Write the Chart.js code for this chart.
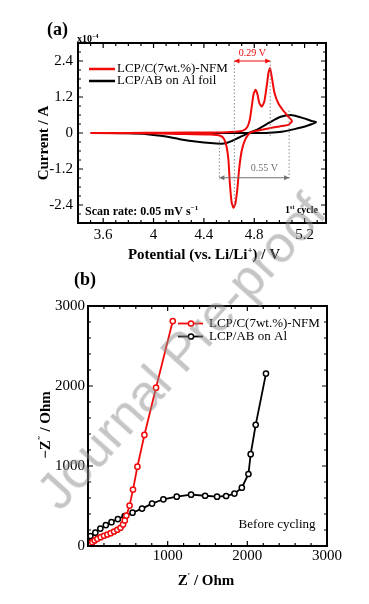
<!DOCTYPE html>
<html>
<head>
<meta charset="utf-8">
<script src="https://cdn.jsdelivr.net/npm/chart.js@4.4.1/dist/chart.umd.min.js"></script>
<style>
  html, body { margin: 0; padding: 0; background: #fff; }
  #wrap { position: relative; width: 369px; height: 604px; overflow: hidden; }
  canvas { position: absolute; left: 0; }
  #cv { top: 0; }
  #eis { top: 265px; }
  #wm {
    position: absolute; left: 66px; top: 466px;
    font: 52px 'Liberation Sans', Arial, sans-serif; line-height: 52px;
    color: rgba(140, 140, 140, 0.5); white-space: nowrap;
    transform-origin: 0 100%; transform: rotate(-48deg);
    pointer-events: none;
  }
</style>
</head>
<body>
<div id="wrap">
  <canvas id="cv" width="369" height="265"></canvas>
  <canvas id="eis" width="369" height="339"></canvas>
  <div id="wm">Journal Pre-proof</div>
</div>
<script>
// (a) CV, potential en V, courant en 1e-4 A
const redCvV = [3.5, 3.8, 4.1, 4.4, 4.55, 4.65, 4.71, 4.745, 4.765, 4.78, 4.795, 4.81, 4.825, 4.84, 4.86, 4.88, 4.9, 4.913, 4.925, 4.94, 4.96, 4.99, 5.03, 5.07, 5.1, 5.07, 5.0, 4.93, 4.85, 4.77, 4.73, 4.7, 4.68, 4.665, 4.65, 4.635, 4.62, 4.605, 4.595, 4.58, 4.56, 4.53, 4.45, 4.2, 3.9, 3.5];
const redCvI = [0, 0, 0.01, 0.015, 0.02, 0.04, 0.08, 0.2, 0.45, 0.88, 1.3, 1.44, 1.3, 1.0, 0.88, 1.05, 1.6, 2.0, 2.16, 1.85, 1.35, 1.0, 0.75, 0.55, 0.4, 0.27, 0.22, 0.17, 0.1, 0.02, -0.2, -0.6, -1.2, -1.9, -2.35, -2.49, -2.3, -1.6, -0.9, -0.45, -0.2, -0.09, -0.05, -0.03, -0.01, 0];
const blackCvV = [3.5, 3.9, 4.2, 4.5, 4.7, 4.85, 4.95, 5.03, 5.12, 5.22, 5.29, 5.25, 5.17, 5.09, 5.01, 4.93, 4.83, 4.75, 4.68, 4.62, 4.56, 4.5, 4.4, 4.3, 4.2, 4.1, 3.95, 3.8, 3.5];
const blackCvI = [0, 0, 0, 0, 0, 0, 0.02, 0.05, 0.13, 0.24, 0.36, 0.41, 0.52, 0.6, 0.54, 0.37, 0.13, -0.01, -0.15, -0.27, -0.35, -0.35, -0.32, -0.27, -0.2, -0.12, -0.04, -0.01, 0];
const cvXLabels = [3.6, 4.0, 4.4, 4.8, 5.2];
const cvYLabels = [2.4, 1.2, 0, -1.2, -2.4];
// écarts de pics annotés : [début, fin]
const peakGap = [4.642, 4.927];   // 0.29 V
const polarGap = [4.523, 5.077];  // 0.55 V

// (b) EIS, Z' et -Z'' en Ohm
const redZre = [13, 34, 54, 84, 117, 160, 201, 243, 285, 327, 368, 408, 440, 462, 482, 522, 565, 620, 708, 854, 1064];
const redZim = [6, 28, 48, 69, 90, 110, 128, 144, 160, 181, 203, 228, 270, 320, 380, 505, 705, 991, 1388, 1979, 2812];
const blackZre = [10, 30, 92, 155, 224, 295, 375, 460, 559, 678, 804, 946, 1114, 1294, 1470, 1620, 1734, 1838, 1931, 2014, 2042, 2105, 2234];
const blackZim = [40, 125, 166, 218, 262, 298, 337, 375, 416, 468, 530, 584, 616, 642, 628, 616, 625, 655, 729, 900, 1148, 1515, 2155];
const eisXLabels = [1000, 2000, 3000];
const eisYLabels = [0, 1000, 2000, 3000];

const RED = '#f00a0a';
const SERIF = "'Liberation Serif', 'Times New Roman', serif";

function toPoints(xs, ys) {
  return xs.map((x, i) => ({ x: x, y: ys[i] }));
}

function labelIf(list) {
  return v => list.some(l => Math.abs(l - v) < 1e-6) ? String(Number(v.toFixed(2))) : '';
}

// texte avec exposants : parts = [[texte, exposant?], ...]
function richText(ctx, parts, x, y, size, weight, color, align) {
  const font = sup => `${weight} ${sup ? Math.round(size * 0.62) : size}px ${SERIF}`;
  let w = 0;
  parts.forEach(p => { ctx.font = font(p[1]); w += ctx.measureText(p[0]).width; });
  let cx = align === 'center' ? x - w / 2 : (align === 'right' ? x - w : x);
  ctx.textAlign = 'left';
  ctx.textBaseline = 'alphabetic';
  ctx.fillStyle = color;
  parts.forEach(p => {
    ctx.font = font(p[1]);
    ctx.fillText(p[0], cx, y - (p[1] ? size * 0.42 : 0));
    cx += ctx.measureText(p[0]).width;
  });
}

// cadre + graduations vers l'intérieur sur les 4 côtés
const frameTicks = {
  id: 'frameTicks',
  afterDatasetsDraw(chart) {
    const { ctx, chartArea: a } = chart;
    const xs = chart.scales.x, ys = chart.scales.y;
    ctx.save();
    ctx.strokeStyle = '#000';
    ctx.lineWidth = 1.2;
    ctx.beginPath();
    xs.ticks.forEach(t => {
      const p = xs.getPixelForValue(t.value);
      const len = t.label !== '' ? 5 : 3;
      ctx.moveTo(p, a.bottom); ctx.lineTo(p, a.bottom - len);
      ctx.moveTo(p, a.top); ctx.lineTo(p, a.top + len);
    });
    ys.ticks.forEach(t => {
      const p = ys.getPixelForValue(t.value);
      const len = t.label !== '' ? 5 : 3;
      ctx.moveTo(a.left, p); ctx.lineTo(a.left + len, p);
      ctx.moveTo(a.right, p); ctx.lineTo(a.right - len, p);
    });
    ctx.stroke();
    ctx.lineWidth = 2;
    ctx.strokeRect(a.left, a.top, a.right - a.left, a.bottom - a.top);
    ctx.restore();
  }
};

function arrow(ctx, x1, x2, y, color) {
  ctx.strokeStyle = color;
  ctx.fillStyle = color;
  ctx.lineWidth = 1.1;
  ctx.setLineDash([]);
  ctx.beginPath(); ctx.moveTo(x1, y); ctx.lineTo(x2, y); ctx.stroke();
  [[x1, 1], [x2, -1]].forEach(([x, d]) => {
    ctx.beginPath();
    ctx.moveTo(x, y); ctx.lineTo(x + d * 5, y - 2.5); ctx.lineTo(x + d * 5, y + 2.5);
    ctx.closePath(); ctx.fill();
  });
}

const cvNotes = {
  id: 'cvNotes',
  afterDraw(chart) {
    const { ctx, chartArea: a } = chart;
    const xs = chart.scales.x, ys = chart.scales.y;
    const X = v => xs.getPixelForValue(v), Y = v => ys.getPixelForValue(v);
    ctx.save();
    // pointillés verticaux
    ctx.strokeStyle = '#808080';
    ctx.lineWidth = 0.9;
    ctx.setLineDash([1.5, 2]);
    [[peakGap[0], 2.4, -2.45], [peakGap[1], 2.4, -0.1], [polarGap[0], -0.25, -1.55], [polarGap[1], 0.75, -1.55]]
      .forEach(([v, y1, y2]) => {
        ctx.beginPath(); ctx.moveTo(X(v), Y(y1)); ctx.lineTo(X(v), Y(y2)); ctx.stroke();
      });
    arrow(ctx, X(peakGap[0]), X(peakGap[1]), Y(2.4), RED);
    arrow(ctx, X(polarGap[0]), X(polarGap[1]), Y(-1.49), '#707070');
    richText(ctx, [['0.29 V', 0]], (X(peakGap[0]) + X(peakGap[1])) / 2, Y(2.4) - 5, 10, 'normal', RED, 'center');
    richText(ctx, [['0.55 V', 0]], X(4.88), Y(-1.49) - 7, 10, 'normal', '#707070', 'center');

    // légende
    ctx.lineWidth = 2.5;
    [[RED, 'LCP/C(7wt.%)-NFM', 26], [ '#000', 'LCP/AB on Al foil', 38]].forEach(([c, txt, dy]) => {
      ctx.strokeStyle = c;
      ctx.beginPath(); ctx.moveTo(a.left + 11, a.top + dy); ctx.lineTo(a.left + 37, a.top + dy); ctx.stroke();
      ctx.font = `13px ${SERIF}`;
      ctx.fillStyle = '#000';
      ctx.textAlign = 'left'; ctx.textBaseline = 'middle';
      ctx.fillText(txt, a.left + 39, a.top + dy);
    });

    richText(ctx, [['Scan rate: 0.05 mV s', 0], ['\u22121', 1]], a.left + 7, a.bottom - 8, 12, 'bold', '#000', 'left');
    richText(ctx, [['1', 0], ['st', 1], [' cycle', 0]], a.right - 8, a.bottom - 10, 10, 'bold', '#000', 'right');
    richText(ctx, [['x10', 0], ['\u22124', 1]], a.left - 1, a.top - 1, 10, 'bold', '#000', 'left');
    richText(ctx, [['(a)', 0]], 47, 35, 18, 'bold', '#000', 'left');

    // titres des axes
    richText(ctx, [['Potential (vs. Li/Li', 0], ['+', 1], [') / V', 0]], (a.left + a.right) / 2 + 2, 259, 15, 'bold', '#000', 'center');
    ctx.translate(48, 143);
    ctx.rotate(-Math.PI / 2);
    richText(ctx, [['Current / A', 0]], 0, 0, 15, 'bold', '#000', 'center');
    ctx.restore();
  }
};

const eisNotes = {
  id: 'eisNotes',
  afterDraw(chart) {
    const { ctx, chartArea: a } = chart;
    ctx.save();
    [[RED, 'LCP/C(7wt.%)-NFM', 58.5], ['#000', 'LCP/AB on Al', 71.5]].forEach(([c, txt, y]) => {
      ctx.strokeStyle = c;
      ctx.lineWidth = 1.8;
      ctx.beginPath(); ctx.moveTo(178, y); ctx.lineTo(203, y); ctx.stroke();
      ctx.beginPath(); ctx.arc(191, y, 2.6, 0, Math.PI * 2);
      ctx.fillStyle = '#fff'; ctx.fill();
      ctx.lineWidth = 1.5; ctx.stroke();
      ctx.font = `13px ${SERIF}`;
      ctx.fillStyle = '#000';
      ctx.textAlign = 'left'; ctx.textBaseline = 'middle';
      ctx.fillText(txt, 209, y);
    });
    richText(ctx, [['Before cycling', 0]], a.right - 11.5, 262.5, 13, 'normal', '#000', 'right');
    richText(ctx, [['(b)', 0]], 74, 20, 18, 'bold', '#000', 'left');
    richText(ctx, [['Z', 0], ['\u2032', 1], [' / Ohm', 0]], 206, 320, 15, 'bold', '#000', 'center');
    ctx.translate(50, 160);
    ctx.rotate(-Math.PI / 2);
    richText(ctx, [['\u2212Z', 0], ['\u2033', 1], [' / Ohm', 0]], 0, 0, 15, 'bold', '#000', 'center');
    ctx.restore();
  }
};

const tickFont = { family: SERIF, size: 15 };

new Chart(document.getElementById('cv'), {
  type: 'line',
  data: {
    datasets: [{
      label: 'LCP/C(7wt.%)-NFM',
      data: toPoints(redCvV, redCvI),
      borderColor: RED,
      borderWidth: 2,
      pointRadius: 0,
      tension: 0.2
    }, {
      label: 'LCP/AB on Al foil',
      data: toPoints(blackCvV, blackCvI),
      borderColor: '#000',
      borderWidth: 2,
      pointRadius: 0,
      tension: 0.2
    }]
  },
  options: {
    responsive: false,
    animation: false,
    layout: { padding: { left: 0, top: 43, right: 43, bottom: 0 } },
    plugins: { legend: { display: false }, tooltip: { enabled: false } },
    scales: {
      x: {
        type: 'linear', min: 3.4, max: 5.37,
        grid: { display: false, drawTicks: false },
        border: { display: false },
        ticks: { stepSize: 0.1, autoSkip: false, includeBounds: false, maxRotation: 0,
                 padding: 3, color: '#000', font: tickFont, callback: labelIf(cvXLabels) },
        afterFit: s => { s.height = 42; }
      },
      y: {
        min: -3, max: 3,
        grid: { display: false, drawTicks: false },
        border: { display: false },
        ticks: { stepSize: 0.3, autoSkip: false, padding: 5, color: '#000', font: tickFont,
                 callback: labelIf(cvYLabels) },
        afterFit: s => { s.width = 78; }
      }
    }
  },
  plugins: [frameTicks, cvNotes]
});

new Chart(document.getElementById('eis'), {
  type: 'line',
  data: {
    datasets: [{
      label: 'LCP/C(7wt.%)-NFM',
      data: toPoints(redZre, redZim),
      borderColor: RED,
      borderWidth: 1.8,
      pointRadius: 2.6,
      pointBorderWidth: 1.5,
      pointBackgroundColor: '#fff',
      pointBorderColor: RED,
      tension: 0
    }, {
      label: 'LCP/AB on Al',
      data: toPoints(blackZre, blackZim),
      borderColor: '#000',
      borderWidth: 1.8,
      pointRadius: 2.6,
      pointBorderWidth: 1.5,
      pointBackgroundColor: '#fff',
      pointBorderColor: '#000',
      tension: 0
    }]
  },
  options: {
    responsive: false,
    animation: false,
    layout: { padding: { left: 0, top: 41, right: 42, bottom: 0 } },
    plugins: { legend: { display: false }, tooltip: { enabled: false } },
    scales: {
      x: {
        type: 'linear', min: 0, max: 3000,
        grid: { display: false, drawTicks: false },
        border: { display: false },
        ticks: { stepSize: 200, autoSkip: false, maxRotation: 0, padding: 1, color: '#000',
                 font: tickFont, callback: labelIf(eisXLabels) },
        afterFit: s => { s.height = 58; }
      },
      y: {
        min: 0, max: 3000,
        grid: { display: false, drawTicks: false },
        border: { display: false },
        ticks: { stepSize: 200, autoSkip: false, padding: 3, color: '#000', font: tickFont,
                 callback: labelIf(eisYLabels) },
        afterFit: s => { s.width = 88; }
      }
    }
  },
  plugins: [frameTicks, eisNotes]
});
</script>
</body>
</html>
